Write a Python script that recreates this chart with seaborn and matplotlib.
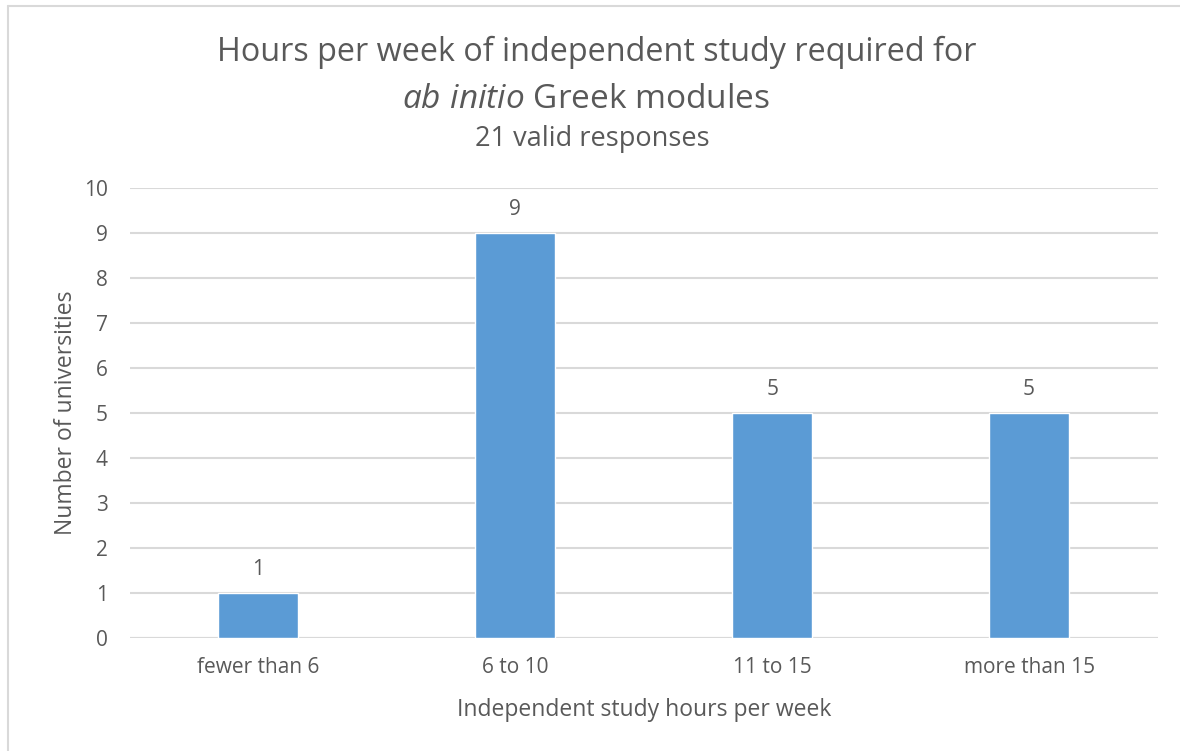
import pandas as pd
import matplotlib.pyplot as plt
import seaborn as sns
from matplotlib.lines import Line2D

# -----------------------------
# Data
# -----------------------------
categories = ["fewer than 6", "6 to 10", "11 to 15", "more than 15"]
universities = [1, 9, 5, 5]
y_ticks = list(range(0, 11))

df = pd.DataFrame({"hours": categories, "count": universities})

# -----------------------------
# Style
# -----------------------------
sns.set_theme(style="white")
plt.rcParams["font.family"] = ["Open Sans", "DejaVu Sans"]
plt.rcParams["mathtext.fontset"] = "custom"
plt.rcParams["mathtext.rm"] = "Open Sans"
plt.rcParams["mathtext.it"] = "Open Sans:italic"

text_color = "#595959"
grid_color = "#D9D9D9"
bar_color = "#5B9BD5"

fig = plt.figure(figsize=(11.8, 7.51), dpi=100)
ax = fig.add_axes([0.110, 0.1505, 0.871, 0.5992])

sns.barplot(data=df, x="hours", y="count", color=bar_color, width=0.31,
            saturation=1, ax=ax, zorder=3)

ax.set_ylim(0, 10)
ax.set_yticks(y_ticks)
ax.set_xlim(-0.5, len(categories) - 0.5)
ax.yaxis.grid(True, color=grid_color, linewidth=1.5, zorder=0)
for s in ax.spines.values():
    s.set_visible(False)
ax.axhline(0, color=grid_color, linewidth=1.5, zorder=2)

ax.tick_params(axis="both", length=0, colors=text_color, labelsize=15)
ax.tick_params(axis="y", pad=16)
ax.tick_params(axis="x", pad=14)

ax.set_xlabel("Independent study hours per week", fontsize=16.5, color=text_color, labelpad=14)
ax.set_ylabel("Number of universities", fontsize=16.5, color=text_color, labelpad=4)

# value labels
for c in ax.containers:
    ax.bar_label(c, padding=9, fontsize=15, color=text_color)

# titles
fig.text(0.506, 0.930, "Hours per week of independent study required for",
         ha="center", va="center", fontsize=23.3, color=text_color)
fig.text(0.497, 0.868, r"$\it{ab\ initio}$ Greek modules",
         ha="center", va="center", fontsize=24, color=text_color)
fig.text(0.502, 0.815, "21 valid responses",
         ha="center", va="center", fontsize=19.5, color=text_color)

# chart frame (left and top edges)
fig.add_artist(Line2D([0.007, 0.007], [0.0, 0.992], transform=fig.transFigure,
                      color=grid_color, linewidth=1.5))
fig.add_artist(Line2D([0.007, 1.0], [0.992, 0.992], transform=fig.transFigure,
                      color=grid_color, linewidth=1.5))

fig.savefig("out.png", dpi=100)
